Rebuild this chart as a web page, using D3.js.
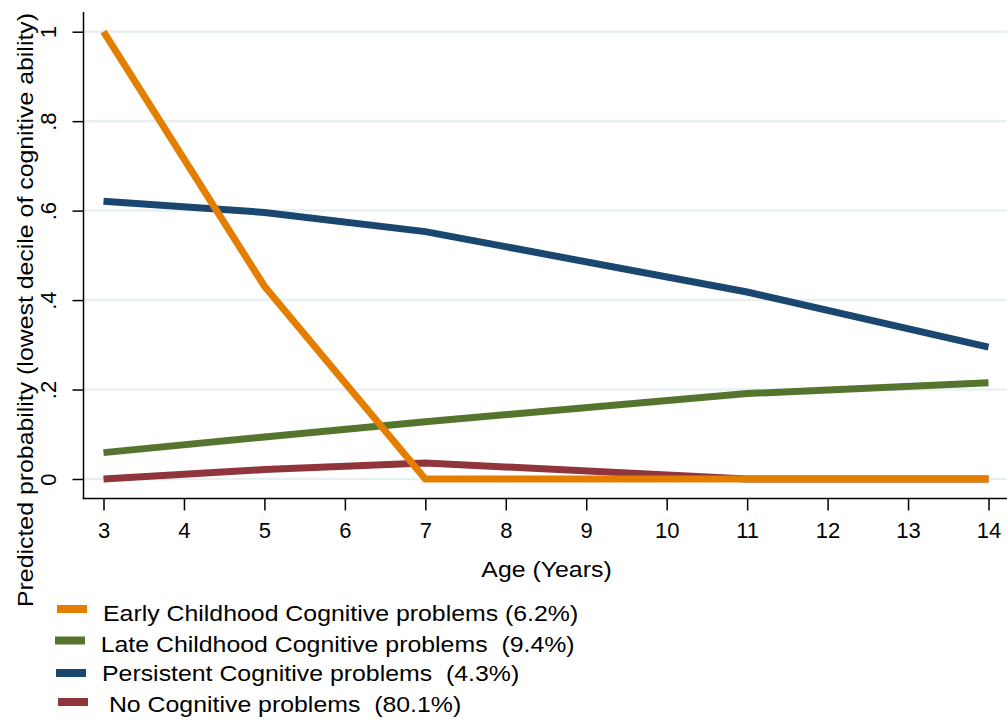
<!DOCTYPE html>
<html>
<head>
<meta charset="utf-8">
<script src="https://cdn.jsdelivr.net/npm/d3@7"></script>
<style>
  html, body { margin: 0; padding: 0; background: #fff; }
  svg { display: block; font-family: "Liberation Sans", Arial, sans-serif; }
</style>
</head>
<body>
<svg id="chart" width="1007" height="720"></svg>
<script>
// Ages at which the trajectory groups were assessed
const ages = [3, 5, 7, 11, 14];

// Predicted probability of being in the lowest decile, per trajectory group
const earlyChildhood = [1.0, 0.431, 0.0, 0.0, 0.0];
const lateChildhood  = [0.059, 0.094, 0.128, 0.191, 0.215];
const persistent     = [0.621, 0.596, 0.553, 0.418, 0.295];
const noProblems     = [0.0, 0.021, 0.036, 0.0, 0.0];

const seriesNames = [
  "Early Childhood Cognitive problems (6.2%)",
  "Late Childhood Cognitive problems  (9.4%)",
  "Persistent Cognitive problems  (4.3%)",
  " No Cognitive problems  (80.1%)"
];
const seriesColors = ["#e37e00", "#55752f", "#1a476f", "#90353b"];

const xTicks = [3, 4, 5, 6, 7, 8, 9, 10, 11, 12, 13, 14];
const yTicks = [0, 0.2, 0.4, 0.6, 0.8, 1];
const yTickLabels = ["0", ".2", ".4", ".6", ".8", "1"];

const series = [earlyChildhood, lateChildhood, persistent, noProblems];

const svg = d3.select("#chart");

const plotLeft = 83.5, plotRight = 1007, plotTop = 12, plotBottom = 498.5;
const textStretch = 1.13;   // wide setting used for titles and legend text

const x = d3.scaleLinear().domain([3, 14]).range([103.5, 988.5]);
const y = d3.scaleLinear().domain([0, 1]).range([479, 31.7]);

// Horizontal gridlines
svg.append("g")
  .selectAll("line")
  .data(yTicks)
  .join("line")
  .attr("x1", plotLeft)
  .attr("x2", plotRight)
  .attr("y1", d => y(d))
  .attr("y2", d => y(d))
  .attr("stroke", "#e8f0f2")
  .attr("stroke-width", 2.5);

// Y axis
const yAxis = d3.axisLeft(y)
  .tickValues(yTicks)
  .tickFormat((d, i) => yTickLabels[i])
  .tickSize(11)
  .tickSizeOuter(0);

const yG = svg.append("g")
  .attr("transform", `translate(${plotLeft},0)`)
  .call(yAxis);
yG.select(".domain").remove();
yG.selectAll(".tick line").attr("stroke", "#000").attr("stroke-width", 1.5);
yG.selectAll(".tick text")
  .attr("font-size", 22)
  .attr("fill", "#000")
  .attr("x", 0)
  .attr("y", 0)
  .attr("dy", 0)
  .attr("text-anchor", "middle")
  .attr("transform", "translate(-28,0) rotate(-90)");

svg.append("line")
  .attr("x1", plotLeft).attr("x2", plotLeft)
  .attr("y1", plotTop).attr("y2", plotBottom + 0.75)
  .attr("stroke", "#000").attr("stroke-width", 1.5);

// X axis
const xAxis = d3.axisBottom(x)
  .tickValues(xTicks)
  .tickFormat(d3.format("d"))
  .tickSize(12)
  .tickSizeOuter(0);

const xG = svg.append("g")
  .attr("transform", `translate(0,${plotBottom})`)
  .call(xAxis);
xG.select(".domain").remove();
xG.selectAll(".tick line").attr("stroke", "#000").attr("stroke-width", 1.5);
xG.selectAll(".tick text")
  .attr("font-size", 22)
  .attr("fill", "#000")
  .attr("y", 39.5)
  .attr("dy", 0);

svg.append("line")
  .attr("x1", plotLeft - 0.75).attr("x2", plotRight)
  .attr("y1", plotBottom).attr("y2", plotBottom)
  .attr("stroke", "#000").attr("stroke-width", 1.5);

// Trajectory lines
const line = d3.line()
  .x((d, i) => x(ages[i]))
  .y(d => y(d));

svg.append("g")
  .selectAll("path")
  .data(series.map((v, i) => ({ v, i })).reverse())
  .join("path")
  .attr("d", d => line(d.v))
  .attr("fill", "none")
  .attr("stroke", d => seriesColors[d.i])
  .attr("stroke-width", 7)
  .attr("stroke-linejoin", "miter");

// Axis titles
svg.append("text")
  .attr("transform", `translate(546.5,577) scale(${textStretch},1)`)
  .attr("text-anchor", "middle")
  .attr("font-size", 22)
  .attr("fill", "#000")
  .text("Age (Years)");

svg.append("text")
  .attr("transform", `translate(33,310) rotate(-90) scale(${textStretch},1)`)
  .attr("text-anchor", "middle")
  .attr("font-size", 22)
  .attr("fill", "#000")
  .text("Predicted probability (lowest decile of cognitive ability)");

// Legend
const legendRows = [609, 640.5, 673, 702];
const legendText = [
  { x: 103, y: 620.7 },
  { x: 100.7, y: 651.7 },
  { x: 102, y: 680.7 },
  { x: 102, y: 711.7 }
];
const legendKeyX = [[57, 87], [55, 85], [56, 86], [58, 88]];
const legend = svg.append("g");
seriesNames.forEach((name, i) => {
  legend.append("line")
    .attr("x1", legendKeyX[i][0]).attr("x2", legendKeyX[i][1])
    .attr("y1", legendRows[i]).attr("y2", legendRows[i])
    .attr("stroke", seriesColors[i])
    .attr("stroke-width", 8);
  legend.append("text")
    .attr("transform", `translate(${legendText[i].x},${legendText[i].y}) scale(${textStretch},1)`)
    .attr("font-size", 22)
    .attr("fill", "#000")
    .style("white-space", "pre")
    .text(name);
});
</script>
</body>
</html>
